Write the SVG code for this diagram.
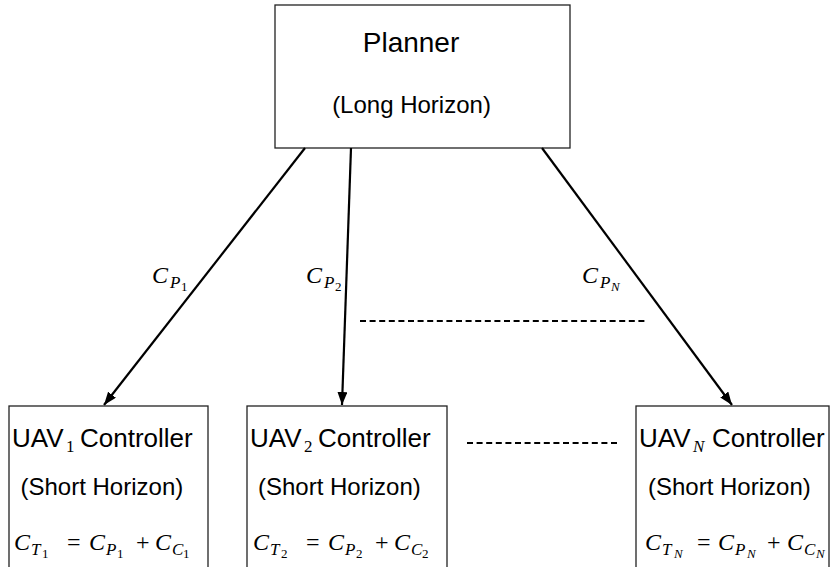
<svg xmlns="http://www.w3.org/2000/svg" width="830" height="567" viewBox="0 0 830 567">
<style>
.box{fill:#fff;stroke:#222;stroke-width:1.3}
.conn{stroke:#000;stroke-width:2.2;fill:none}
.dash{stroke:#000;stroke-width:2.2;stroke-dasharray:6 3.6;fill:none}
.sans{font-family:"Liberation Sans",Arial,sans-serif;fill:#000}
.m{font-family:"Liberation Serif","Times New Roman",serif;font-style:italic;fill:#000;font-size:24px}
.s{font-family:"Liberation Serif","Times New Roman",serif;font-style:italic;fill:#000;font-size:17px}
.n{font-family:"Liberation Serif","Times New Roman",serif;fill:#000;font-size:13px}
.sn{font-family:"Liberation Serif","Times New Roman",serif;font-style:italic;fill:#000;font-size:13px}
.un{font-family:"Liberation Serif","Times New Roman",serif;fill:#000;font-size:17px}
.uni{font-family:"Liberation Serif","Times New Roman",serif;font-style:italic;fill:#000;font-size:17px}
.op{font-family:"Liberation Serif","Times New Roman",serif;fill:#000;font-size:24px}
</style>
<defs>
<marker id="ah" markerUnits="userSpaceOnUse" markerWidth="14" markerHeight="10" refX="13" refY="5" orient="auto">
<path d="M0,0 L13,5 L0,10 z" fill="#000"/>
</marker>
</defs>

<g id="planner">
<rect class="box" x="275" y="5" width="295" height="143"/>
<text class="sans" x="411" y="52" font-size="28" text-anchor="middle">Planner</text>
<text class="sans" x="411.5" y="113" font-size="24" text-anchor="middle">(Long Horizon)</text>
</g>

<g id="connectors">
<line class="conn" x1="305" y1="148" x2="104" y2="405" marker-end="url(#ah)"/>
<line class="conn" x1="351" y1="148" x2="342" y2="405" marker-end="url(#ah)"/>
<line class="conn" x1="542" y1="148" x2="732" y2="405" marker-end="url(#ah)"/>
<line class="dash" x1="360" y1="321" x2="648" y2="321"/>
<line class="dash" x1="467" y1="443" x2="618" y2="443"/>
</g>

<g id="labels">
<text class="m" x="152" y="283">C</text><text class="s" x="170" y="288">P</text><text class="n" x="181" y="291">1</text>
<text class="m" x="306" y="283">C</text><text class="s" x="324" y="288">P</text><text class="n" x="335" y="291">2</text>
<text class="m" x="582" y="283">C</text><text class="s" x="600" y="288">P</text><text class="sn" x="611" y="291">N</text>
</g>

<g id="uav1">
<rect class="box" x="9" y="406" width="199" height="175"/>
<text class="sans" x="12" y="447" font-size="26">UAV</text><text class="un" x="66" y="452">1</text><text class="sans" x="80" y="447" font-size="26">Controller</text>
<text class="sans" x="20.5" y="495" font-size="24">(Short Horizon)</text>
<text class="m" x="14" y="550">C</text><text class="s" x="31" y="555">T</text><text class="n" x="42" y="558">1</text>
<text class="op" x="67" y="550">=</text>
<text class="m" x="89" y="550">C</text><text class="s" x="106" y="555">P</text><text class="n" x="117" y="558">1</text>
<text class="op" x="136" y="550">+</text>
<text class="m" x="155" y="550">C</text><text class="s" x="172" y="555">C</text><text class="n" x="183" y="558">1</text>
</g>

<g id="uav2">
<rect class="box" x="247" y="406" width="200" height="175"/>
<text class="sans" x="250" y="447" font-size="26">UAV</text><text class="un" x="304" y="452">2</text><text class="sans" x="318" y="447" font-size="26">Controller</text>
<text class="sans" x="258" y="495" font-size="24">(Short Horizon)</text>
<text class="m" x="253" y="550">C</text><text class="s" x="270" y="555">T</text><text class="n" x="281" y="558">2</text>
<text class="op" x="306" y="550">=</text>
<text class="m" x="328" y="550">C</text><text class="s" x="345" y="555">P</text><text class="n" x="356" y="558">2</text>
<text class="op" x="375" y="550">+</text>
<text class="m" x="394" y="550">C</text><text class="s" x="411" y="555">C</text><text class="n" x="422" y="558">2</text>
</g>

<g id="uavN">
<rect class="box" x="636" y="406" width="193" height="175"/>
<text class="sans" x="639" y="447" font-size="26">UAV</text><text class="uni" x="693" y="452">N</text><text class="sans" x="712" y="447" font-size="26">Controller</text>
<text class="sans" x="648" y="495" font-size="24">(Short Horizon)</text>
<text class="m" x="645" y="550">C</text><text class="s" x="662" y="555">T</text><text class="sn" x="674" y="558">N</text>
<text class="op" x="697" y="550">=</text>
<text class="m" x="718" y="550">C</text><text class="s" x="735" y="555">P</text><text class="sn" x="747" y="558">N</text>
<text class="op" x="767" y="550">+</text>
<text class="m" x="787" y="550">C</text><text class="s" x="804" y="555">C</text><text class="sn" x="816" y="558">N</text>
</g>
</svg>
